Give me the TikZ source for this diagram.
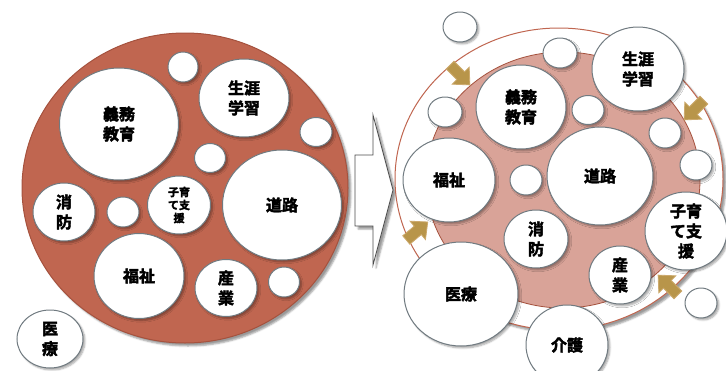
\documentclass[tikz,border=0pt]{standalone}
\usepackage{xcolor}
\usepackage{fontspec}
\newfontfamily\jp{Noto Sans CJK JP}[UprightFont=* Bold, FakeBold=2.6]
\usepackage{tikz}
\usetikzlibrary{arrows.meta}
\usetikzlibrary{shapes}
\usetikzlibrary{shadows.blur}
\definecolor{BrickRed}{RGB}{192,102,80}
\definecolor{BrickLine}{RGB}{165,82,62}
\definecolor{SoftPink}{RGB}{217,163,152}
\definecolor{BubbleLine}{RGB}{112,122,128}
\definecolor{GoldFill}{RGB}{184,149,74}
\definecolor{GoldLine}{RGB}{205,170,110}
\tikzset{
  Bubble/.style={
    ellipse, inner sep=0pt,
    fill=white, draw=BubbleLine, line width=1pt,
    blur shadow={shadow xshift=2pt, shadow yshift=-2pt, shadow opacity=35, shadow blur steps=6},
    align=center, font=\jp\fontsize{16}{20}\selectfont,
  },
  GoldArrowStyle/.style={fill=GoldFill, draw=GoldLine, line width=0.8pt, line join=miter},
  GoldArrow/.pic={
    \filldraw[GoldArrowStyle] (-14,-5.5) -- (1,-5.5) -- (1,-12) -- (14,0) -- (1,12) -- (1,5.5) -- (-14,5.5) -- cycle;
  },
}

\begin{document}
\begin{tikzpicture}[x=1pt,y=-1pt]
\useasboundingbox (0,0) rectangle (726,370);
% left: before
\node[ellipse, fill=BrickRed, draw=BrickLine, line width=1pt, minimum width=326pt, minimum height=310pt,
  blur shadow={shadow xshift=3pt, shadow yshift=-3pt, shadow opacity=40}] (LBASE) at (185,188) {};
\node[Bubble, minimum width=30pt, minimum height=30pt] (LB1) at (183,67) {};
\node[Bubble, minimum width=90pt, minimum height=78pt] (LLIFE) at (244,98) {生涯\\学習};
\node[Bubble, minimum width=119pt, minimum height=112pt] (LEDU) at (119,124) {義務\\教育};
\node[Bubble, minimum width=32pt, minimum height=29pt] (LB2) at (316,132) {};
\node[Bubble, minimum width=31pt, minimum height=29pt] (LB3) at (210,158) {};
\node[Bubble, minimum width=119pt, minimum height=110pt] (LROAD) at (282,205) {道路};
\node[Bubble, minimum width=62pt, minimum height=58pt] (LFIRE) at (64,212) {消\\防};
\node[Bubble, minimum width=32pt, minimum height=30pt] (LB4) at (123,212) {};
\node[Bubble, minimum width=63pt, minimum height=58pt, font=\jp\fontsize{11}{13}\selectfont] (LCHILD) at (179,205) {子育\\て支\\援};
\node[Bubble, minimum width=90pt, minimum height=85pt] (LWELF) at (139,276) {福祉};
\node[Bubble, minimum width=62pt, minimum height=57pt] (LIND) at (226,288) {産\\業};
\node[Bubble, minimum width=31pt, minimum height=30pt] (LB5) at (284,282) {};
\node[Bubble, minimum width=66pt, minimum height=58pt] (LMED) at (50,339) {医\\療};
% big arrow
\filldraw[fill=white, draw=black!70, line width=0.8pt,
  blur shadow={shadow xshift=3pt, shadow yshift=-3pt, shadow opacity=40}]
  (355,155) -- (373,155) -- (373,115) -- (393,190) -- (373,265) -- (373,226) -- (355,226) -- cycle;
% right: after
\node[ellipse, fill=white, draw=BrickRed, line width=1pt, minimum width=328pt, minimum height=302pt,
  blur shadow={shadow xshift=3pt, shadow yshift=-3pt, shadow opacity=40}] (ROUT) at (559,179) {};
\node[ellipse, fill=SoftPink, draw=BrickLine, line width=0.8pt, minimum width=274pt, minimum height=256pt] (RBASE) at (563,180) {};
\pic[rotate=-45] at (460,75) {GoldArrow};
\pic[rotate=-135] at (694,110) {GoldArrow};
\pic[rotate=40] at (417,231) {GoldArrow};
\pic[rotate=135] at (668,285) {GoldArrow};
\node[Bubble, minimum width=34pt, minimum height=30pt] (RB1) at (460,27) {};
\node[Bubble, minimum width=34pt, minimum height=30pt] (RB2) at (560,53) {};
\node[Bubble, minimum width=92pt, minimum height=84pt] (RLIFE) at (638,69) {生涯\\学習};
\node[Bubble, minimum width=90pt, minimum height=84pt] (REDU) at (521,107) {義務\\教育};
\node[Bubble, minimum width=34pt, minimum height=30pt] (RB3) at (445,112) {};
\node[Bubble, minimum width=32pt, minimum height=29pt] (RB4) at (588,110) {};
\node[Bubble, minimum width=32pt, minimum height=30pt] (RB5) at (665,133) {};
\node[Bubble, minimum width=32pt, minimum height=30pt] (RB6) at (696,165) {};
\node[Bubble, minimum width=92pt, minimum height=84pt] (RWELF) at (449,180) {福祉};
\node[Bubble, minimum width=32pt, minimum height=30pt] (RB7) at (526,180) {};
\node[Bubble, minimum width=106pt, minimum height=98pt] (RROAD) at (600,176) {道路};
\node[Bubble, minimum width=64pt, minimum height=58pt] (RFIRE) at (536,239) {消\\防};
\node[Bubble, minimum width=82pt, minimum height=78pt] (RCHILD) at (686,231) {子育\\て支\\援};
\node[Bubble, minimum width=62pt, minimum height=58pt] (RIND) at (620,275) {産\\業};
\node[Bubble, minimum width=32pt, minimum height=30pt] (RB8) at (701,303) {};
\node[Bubble, minimum width=114pt, minimum height=104pt] (RMED) at (461,294) {医療};
\node[Bubble, minimum width=82pt, minimum height=80pt] (RCARE) at (567,345) {介護};
\end{tikzpicture}
\end{document}
